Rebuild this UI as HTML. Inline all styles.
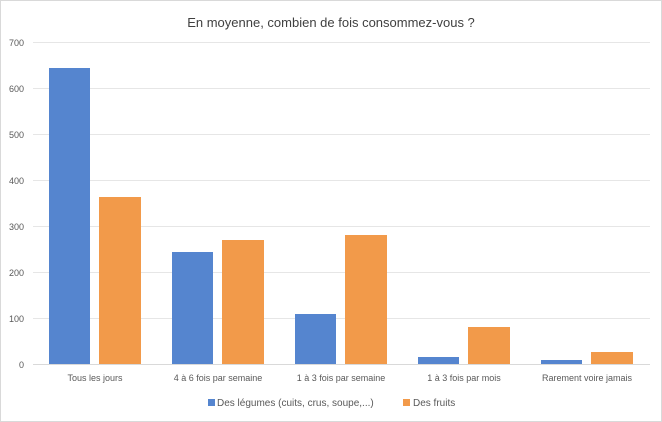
<!DOCTYPE html>
<html><head><style>body{margin:0;background:#fff}svg{display:block}</style></head><body>
<svg width="662" height="422" xmlns="http://www.w3.org/2000/svg" font-family="Liberation Sans, sans-serif">
<rect x="0.5" y="0.5" width="661" height="421" fill="#fff" stroke="#d9d9d9"/>
<text x="331" y="27" text-anchor="middle" font-size="13" fill="#404040">En moyenne, combien de fois consommez-vous ?</text>
<g stroke="#e6e6e6" stroke-width="1">
<line x1="33" y1="42.5" x2="650" y2="42.5"/><line x1="33" y1="88.5" x2="650" y2="88.5"/>
<line x1="33" y1="134.5" x2="650" y2="134.5"/><line x1="33" y1="180.5" x2="650" y2="180.5"/>
<line x1="33" y1="226.5" x2="650" y2="226.5"/><line x1="33" y1="272.5" x2="650" y2="272.5"/>
<line x1="33" y1="318.5" x2="650" y2="318.5"/></g>
<line x1="33" y1="364.5" x2="650" y2="364.5" stroke="#d9d9d9"/>
<g font-size="9" fill="#595959" text-anchor="end">
<text x="24" y="46">700</text><text x="24" y="92">600</text><text x="24" y="138">500</text><text x="24" y="184">400</text><text x="24" y="230">300</text><text x="24" y="276">200</text><text x="24" y="322">100</text><text x="24" y="368">0</text></g>
<g fill="#5585cf">
<rect x="49" y="68" width="41" height="296"/><rect x="172" y="252" width="41" height="112"/>
<rect x="295" y="314" width="41" height="50"/><rect x="418" y="357" width="41" height="7"/>
<rect x="541" y="360" width="41" height="4"/></g>
<g fill="#f29a4a">
<rect x="99" y="197" width="42" height="167"/><rect x="222" y="240" width="42" height="124"/>
<rect x="345" y="235" width="42" height="129"/><rect x="468" y="327" width="42" height="37"/>
<rect x="591" y="352" width="42" height="12"/></g>
<g font-size="9" fill="#595959" text-anchor="middle">
<text x="95" y="381">Tous les jours</text><text x="218" y="381">4 à 6 fois par semaine</text>
<text x="341" y="381">1 à 3 fois par semaine</text><text x="464" y="381">1 à 3 fois par mois</text>
<text x="587" y="381">Rarement voire jamais</text></g>
<rect x="208" y="399" width="7" height="7" fill="#5585cf"/>
<text x="217" y="406" font-size="10" fill="#595959">Des légumes (cuits, crus, soupe,...)</text>
<rect x="403" y="399" width="7" height="7" fill="#f29a4a"/>
<text x="413" y="406" font-size="10" fill="#595959">Des fruits</text>
</svg>
</body></html>
